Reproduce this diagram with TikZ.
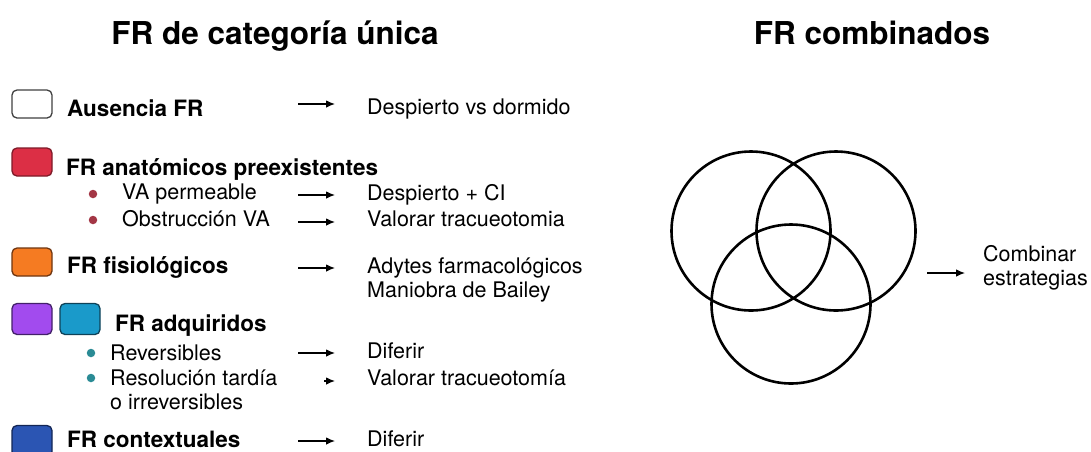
\documentclass[tikz,border=0pt]{standalone}
\usepackage{fontspec}
\setmainfont{TeX Gyre Heros}
\usetikzlibrary{arrows.meta, positioning}

\definecolor{rojo}{HTML}{DC2F45}
\definecolor{rojoborde}{HTML}{7E1A28}
\definecolor{naranja}{HTML}{F57B22}
\definecolor{naranjaborde}{HTML}{6E3510}
\definecolor{morado}{HTML}{A24BEE}
\definecolor{moradoborde}{HTML}{43206A}
\definecolor{turquesa}{HTML}{1A9ACA}
\definecolor{turquesaborde}{HTML}{0E4258}
\definecolor{azul}{HTML}{2B55B3}
\definecolor{azulborde}{HTML}{132655}
\definecolor{puntorojo}{HTML}{A33645}
\definecolor{puntoverde}{HTML}{2A8B95}

\begin{document}
\begin{tikzpicture}[x=1pt, y=-1pt, >={Latex[length=9pt,width=7.5pt]},
    cat/.style={draw, rounded corners=5pt, line width=1.3pt, minimum width=40pt, minimum height=28pt, inner sep=0pt},
    head/.style={font=\fontsize{22.5}{26}\selectfont\bfseries, anchor=base west, inner sep=0pt},
    txt/.style={font=\fontsize{21.5}{23.5}\selectfont, anchor=base west, inner sep=0pt, align=left},
    punto/.style={circle, inner sep=0pt, minimum size=8.5pt},
    titulo/.style={font=\fontsize{31.5}{34}\selectfont\bfseries, anchor=base, inner sep=0pt},
    venn/.style={circle, draw, line width=2.6pt, minimum size=159pt, inner sep=0pt}]
    \useasboundingbox (0,0) rectangle (1091,451);

    % titulos
    \node[titulo] (tunica) at (275,44) {FR de categoría única};
    \node[titulo] (tcomb) at (872,44) {FR combinados};

    % categorias
    \node[cat, draw=black!75, fill=white] (caja1) at (32,104) {};
    \node[cat, draw=rojoborde, fill=rojo] (caja2) at (32,162) {};
    \node[cat, draw=naranjaborde, fill=naranja] (caja3) at (32,262) {};
    \node[cat, draw=moradoborde, fill=morado, minimum height=31pt] (caja4) at (32,319) {};
    \node[cat, draw=turquesaborde, fill=turquesa, minimum height=31pt] (caja5) at (80,319) {};
    \node[cat, draw=azulborde, fill=azul, minimum height=31pt] (caja6) at (32,441) {};

    \node[head] (aus) at (67,116) {Ausencia FR};
    \node[head] (anat) at (66,175) {FR anatómicos preexistentes};
    \node[head] (fisio) at (67,273) {FR fisiológicos};
    \node[head] (adq) at (115,331) {FR adquiridos};
    \node[head] (cont) at (67,447) {FR contextuales};

    % subcategorias
    \node[punto, fill=puntorojo] (p1) at (93,194) {};
    \node[punto, fill=puntorojo] (p2) at (93,220) {};
    \node[punto, fill=puntoverde] (p3) at (91,353) {};
    \node[punto, fill=puntoverde] (p4) at (91,378) {};
    \node[txt] (perm) at (122,199) {VA permeable};
    \node[txt] (obst) at (122,226) {Obstrucción VA};
    \node[txt] (rev) at (110,360) {Reversibles};
    \node[txt] (tard) at (110,409) {Resolución tardía\\o irreversibles};

    % estrategias
    \node[txt] (d1) at (367,114) {Despierto vs dormido};
    \node[txt] (d2) at (367,200) {Despierto + CI};
    \node[txt] (d3) at (367,226) {Valorar tracueotomia};
    \node[txt] (d4) at (367,297) {Adytes farmacológicos\\Maniobra de Bailey};
    \node[txt] (d5) at (367,358) {Diferir};
    \node[txt] (d6) at (367,385) {Valorar tracueotomía};
    \node[txt] (d7) at (367,446) {Diferir};

    \coordinate (s1) at (298,104);
    \coordinate (s2) at (298,195);
    \coordinate (s3) at (298,222);
    \coordinate (s4) at (298,268);
    \coordinate (s5) at (298,353);
    \coordinate (s6) at (324,381);
    \coordinate (s7) at (298,441);

    \path[->, line width=1.1pt, shorten >=32pt]
        (s1) edge (s1 -| d1.west)
        (s2) edge (s2 -| d2.west)
        (s3) edge (s3 -| d3.west)
        (s4) edge (s4 -| d4.west)
        (s5) edge (s5 -| d5.west)
        (s6) edge (s6 -| d6.west)
        (s7) edge (s7 -| d7.west);

    % diagrama de Venn
    \node[venn] (v1) at (751,231) {};
    \node[venn] (v2) at (836,231) {};
    \node[venn] (v3) at (791,304) {};

    \node[txt] (comb) at (983,285) {Combinar\\estrategias};
    \coordinate (sv) at (927,273);
    \path[->, line width=1.1pt, shorten >=18pt] (sv) edge (sv -| comb.west);
\end{tikzpicture}
\end{document}
